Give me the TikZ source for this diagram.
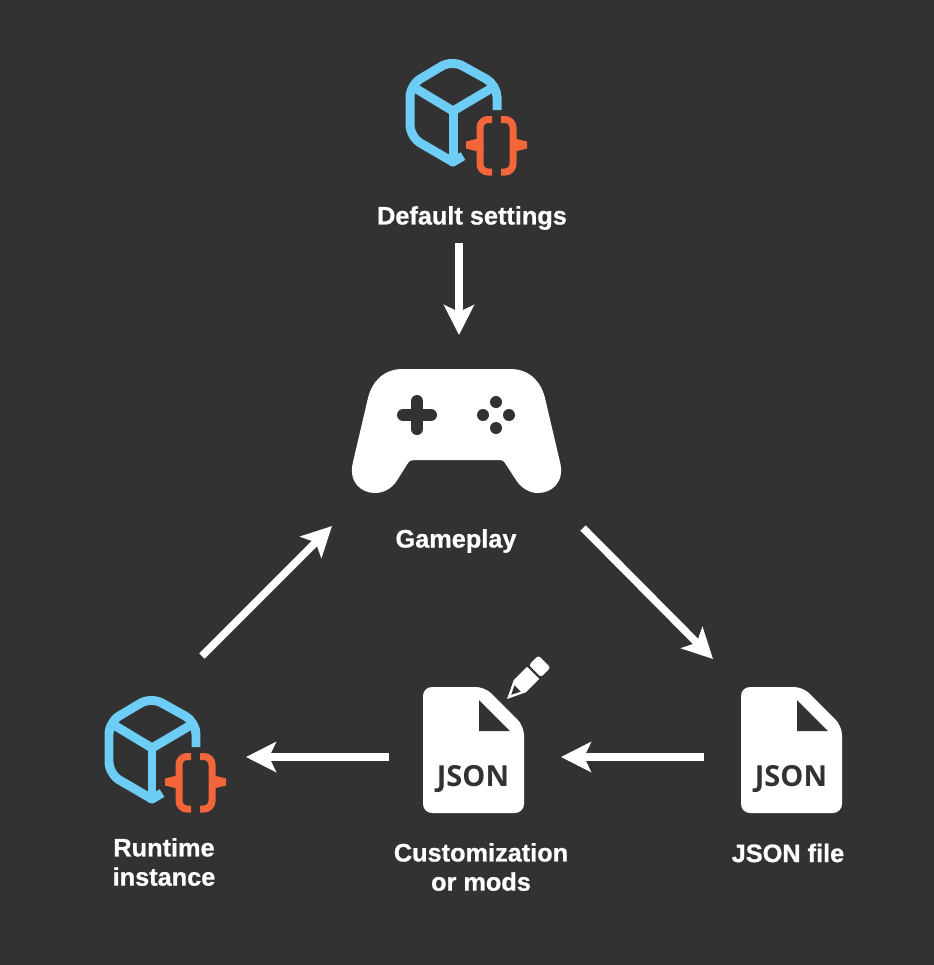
\documentclass[tikz,border=0pt]{standalone}
\usepackage{fontspec}
\setmainfont[BoldFeatures={FakeBold=0.8}]{Liberation Sans}
\newfontfamily\jsonfont{Open Sans}
\usetikzlibrary{arrows.meta}
\definecolor{bgdark}{HTML}{323232}
\definecolor{cubeblue}{HTML}{6DCDF5}
\definecolor{braceorange}{HTML}{F2663A}
\tikzset{
	flow/.style={draw=white, line width=1.5mm, -{Stealth[length=6mm,width=6mm,inset=1.4mm]}},
	caption/.style={text=white, font=\fontsize{14.4}{16.6}\selectfont\bfseries, align=center},
	cubeline/.style={draw=cubeblue, line width=1.8mm, line join=round},
	braceline/.style={draw=braceorange, line width=1.4mm, rounded corners=1.6mm},
}
\def\cubeicon(#1,#2){
	\begin{scope}[shift={(#1,#2)}]
		\draw[cubeline, rounded corners=2.4mm] (45,-25) -- (45,-50) -- (0,-75) -- (-42,-50) -- (-42,2) -- (1,27);
		\draw[cubeline] (-42,-50) -- (1,-24) -- (45,-50);
		\draw[cubeline] (1,-24) -- (1,27);
		\draw[cubeline] (-1,26) -- (1,27) -- (11,21);
		\draw[braceline] (40,-15.5) -- (28,-15.5) -- (28,37) -- (40,37);
		\draw[braceline] (49,-15.5) -- (61,-15.5) -- (61,37) -- (49,37);
		\fill[braceorange] (14,6.5) -- (24,4) -- (31,4) -- (31,16) -- (24,16) -- (14,13.5) -- cycle;
		\fill[braceorange] (75,6.5) -- (65,4) -- (58,4) -- (58,16) -- (65,16) -- (75,13.5) -- cycle;
	\end{scope}
}
\def\jsonicon(#1,#2){
	\begin{scope}[shift={(#1,#2)}]
		\fill[white, rounded corners=1.8mm] (0,0) -- (62,0) -- (101,39) -- (101,126) -- (0,126) -- cycle;
		\fill[bgdark] (56,13) -- (56,44) -- (87,44) -- cycle;
		\node[text=bgdark, font=\jsonfont\fontsize{16.5}{18}\selectfont\bfseries] (#1json) at (50,92) {JSON};
	\end{scope}
}
\begin{document}
\begin{tikzpicture}[x=0.02cm, y=-0.02cm]
	%%%%% START %%%%%
	\fill[bgdark] (0,0) rectangle (934,965);
	\useasboundingbox (0,0) rectangle (934,965);

	\cubeicon(452,135);
	\cubeicon(151,772);
	\jsonicon(423,687);
	\jsonicon(741,687);

	% pencil
	\begin{scope}[shift={(507,699)}, rotate=45]
		\fill[white] (0,0) -- (18,8.5) -- (37,8.5) -- (37,-8.5) -- (18,-8.5) -- cycle;
		\fill[bgdark] (6,0) -- (15,4.5) -- (15,-4.5) -- cycle;
		\fill[white, rounded corners=0.5mm] (39.5,-8.5) rectangle (53,8.5);
	\end{scope}

	% controller
	\fill[white] (403,369) -- (510,369) .. controls (530,369) and (541,382) .. (545,398)
		-- (560,462) .. controls (565,482) and (552,493) .. (538,493)
		.. controls (530,493) and (522,489) .. (516,480)
		-- (505,463) .. controls (503,460) and (501,460) .. (498,460)
		-- (416,460) .. controls (413,460) and (410,460) .. (408,463)
		-- (396,482) .. controls (391,489) and (383,493) .. (375,493)
		.. controls (361,493) and (348,482) .. (353,462)
		-- (368,398) .. controls (372,382) and (383,369) .. (403,369) -- cycle;
	\draw[bgdark, line width=2.4mm, line cap=round] (403,415) -- (431,415);
	\draw[bgdark, line width=2.4mm, line cap=round] (417,401) -- (417,429);
	\foreach \px/\py in {496/402, 496/428, 483/415, 509/415}
		\fill[bgdark] (\px,\py) circle (6);

	\node[caption] (settings) at (472,218) {Default settings};
	\node[caption] (gameplay) at (456,541) {Gameplay};
	\node[caption] (runtime) at (164,862) {Runtime\\instance};
	\node[caption] (custom) at (481,867) {Customization\\or mods};
	\node[caption] (jsonfile) at (788,853) {JSON file};

	\coordinate (a1) at (459,243);
	\coordinate (b1) at (459,335);
	\coordinate (a2) at (583,528);
	\coordinate (b2) at (713,659);
	\coordinate (a3) at (704,757);
	\coordinate (b3) at (561,757);
	\coordinate (a4) at (389,757);
	\coordinate (b4) at (246,757);
	\coordinate (a5) at (202,656);
	\coordinate (b5) at (332,526);

	\draw[flow] (a1) -- (b1);
	\draw[flow] (a2) -- (b2);
	\draw[flow] (a3) -- (b3);
	\draw[flow] (a4) -- (b4);
	\draw[flow] (a5) -- (b5);
	%%%%% END %%%%%
\end{tikzpicture}
\end{document}
